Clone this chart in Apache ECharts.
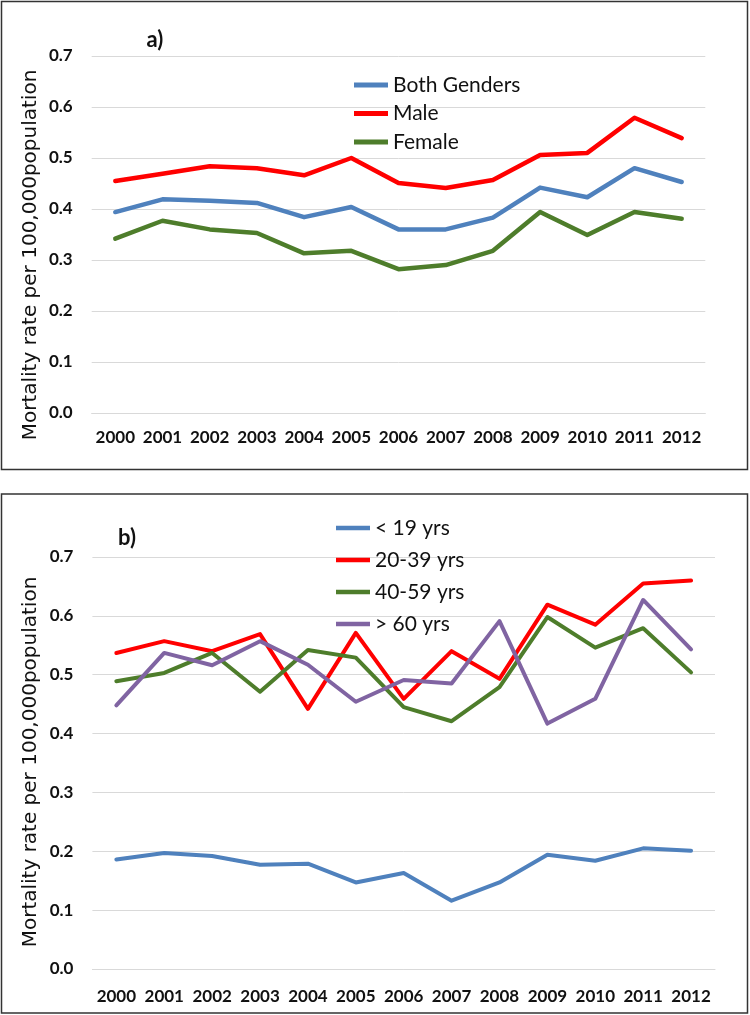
<!DOCTYPE html>
<html>
<head>
<meta charset="utf-8">
<script src="https://cdn.jsdelivr.net/npm/echarts@6/dist/echarts.min.js"></script>
<style>
html,body{margin:0;padding:0;background:#fff;}
#chart{width:750px;height:1015px;}
</style>
</head>
<body>
<div id="chart"></div>
<script>
const years = ['2000','2001','2002','2003','2004','2005','2006','2007','2008','2009','2010','2011','2012'];
const yTicks = [0, 0.1, 0.2, 0.3, 0.4, 0.5, 0.6, 0.7];
const yTitle = 'Mortality rate per 100,000population';

// Panel a)
const bothGenders = [0.394,0.419,0.416,0.412,0.384,0.404,0.360,0.360,0.383,0.442,0.423,0.480,0.453];
const male        = [0.455,0.469,0.484,0.480,0.466,0.500,0.451,0.441,0.457,0.506,0.510,0.579,0.539];
const female      = [0.342,0.377,0.360,0.353,0.313,0.318,0.282,0.290,0.318,0.394,0.349,0.394,0.381];

// Panel b)
const under19  = [0.186,0.197,0.192,0.177,0.179,0.147,0.163,0.116,0.147,0.194,0.184,0.205,0.201];
const age20_39 = [0.537,0.557,0.540,0.569,0.442,0.571,0.459,0.540,0.493,0.619,0.585,0.655,0.660];
const age40_59 = [0.489,0.503,0.537,0.471,0.542,0.529,0.445,0.421,0.479,0.598,0.546,0.579,0.504];
const over60   = [0.448,0.537,0.516,0.557,0.517,0.454,0.491,0.485,0.591,0.417,0.459,0.627,0.543];

const BLUE = '#4f81bd', RED = '#ff0000', GREEN = '#4e7d2b', PURPLE = '#8064a2';
const TICKFONT = 'Lato, "Open Sans", "Liberation Sans", sans-serif';
const TITLEFONT = '"DejaVu Sans", Verdana, sans-serif';

const chart = echarts.init(document.getElementById('chart'), null, {renderer: 'canvas'});

function xAxisCfg(gridIndex, margin) {
  return {
    type: 'category', gridIndex, data: years, boundaryGap: true,
    axisLine: {show: true, lineStyle: {color: '#d9d9d9', width: 1}},
    axisTick: {show: false},
    axisLabel: {margin, color: '#111', fontSize: 17, fontWeight: 'bold', fontFamily: TICKFONT, interval: 0},
    splitLine: {show: false}
  };
}
function yAxisCfg(gridIndex) {
  return {
    type: 'value', gridIndex,
    min: yTicks[0], max: yTicks[yTicks.length - 1], interval: 0.1,
    axisLine: {show: false}, axisTick: {show: false},
    axisLabel: {margin: 19, color: '#111', fontSize: 17, fontWeight: 'bold', fontFamily: TICKFONT,
      formatter: v => v.toFixed(1)},
    splitLine: {show: true, lineStyle: {color: '#d9d9d9', width: 1}}
  };
}
function line(name, data, color, idx, width) {
  return {
    name, type: 'line', data, xAxisIndex: idx, yAxisIndex: idx,
    symbol: 'none', smooth: false,
    lineStyle: {color, width, cap: 'round', join: 'round'},
    itemStyle: {color},
    emphasis: {disabled: true}, animation: false
  };
}
const legendText = {fontFamily: TICKFONT, fontSize: 21, color: '#111', lineHeight: 22};

chart.setOption({
  backgroundColor: '#fff',
  animation: false,
  grid: [
    {left: 91.7, right: 44.7, top: 56, bottom: 602, containLabel: false},
    {left: 92.4, right: 35, top: 557, bottom: 46, containLabel: false}
  ],
  xAxis: [xAxisCfg(0, 16), xAxisCfg(1, 19)],
  yAxis: [yAxisCfg(0), yAxisCfg(1)],
  legend: [
    {data: ['Both Genders', 'Male', 'Female'], orient: 'vertical', left: 349, top: 69,
      icon: 'rect', itemWidth: 34, itemHeight: 5, itemGap: 6.5, textStyle: legendText,
      selectedMode: false},
    {data: ['< 19 yrs', '20-39 yrs', '40-59 yrs', '> 60 yrs'], orient: 'vertical', left: 331, top: 512,
      icon: 'rect', itemWidth: 34, itemHeight: 4.5, itemGap: 10, textStyle: legendText,
      selectedMode: false}
  ],
  graphic: [
    {type: 'rect', shape: {x: 1.5, y: 1.5, width: 746, height: 468}, style: {fill: 'none', stroke: '#333', lineWidth: 1.5}, silent: true},
    {type: 'rect', shape: {x: 1.5, y: 494, width: 746, height: 519}, style: {fill: 'none', stroke: '#333', lineWidth: 1.5}, silent: true},
    {type: 'text', x: 155, y: 40, style: {text: 'a)', font: 'bold 22px ' + TICKFONT, fill: '#111', align: 'center', verticalAlign: 'middle'}},
    {type: 'text', x: 127, y: 538, style: {text: 'b)', font: 'bold 22px ' + TICKFONT, fill: '#111', align: 'center', verticalAlign: 'middle'}},
    {type: 'text', x: 31, y: 255, rotation: Math.PI / 2,
      style: {text: yTitle, font: '20px ' + TITLEFONT, fill: '#111', align: 'center', verticalAlign: 'middle'}},
    {type: 'text', x: 31, y: 762, rotation: Math.PI / 2,
      style: {text: yTitle, font: '20px ' + TITLEFONT, fill: '#111', align: 'center', verticalAlign: 'middle'}}
  ],
  series: [
    line('Both Genders', bothGenders, BLUE, 0, 4.5),
    line('Male', male, RED, 0, 4.5),
    line('Female', female, GREEN, 0, 4.5),
    line('< 19 yrs', under19, BLUE, 1, 4),
    line('20-39 yrs', age20_39, RED, 1, 4),
    line('40-59 yrs', age40_59, GREEN, 1, 4),
    line('> 60 yrs', over60, PURPLE, 1, 4)
  ]
});
</script>
</body>
</html>
